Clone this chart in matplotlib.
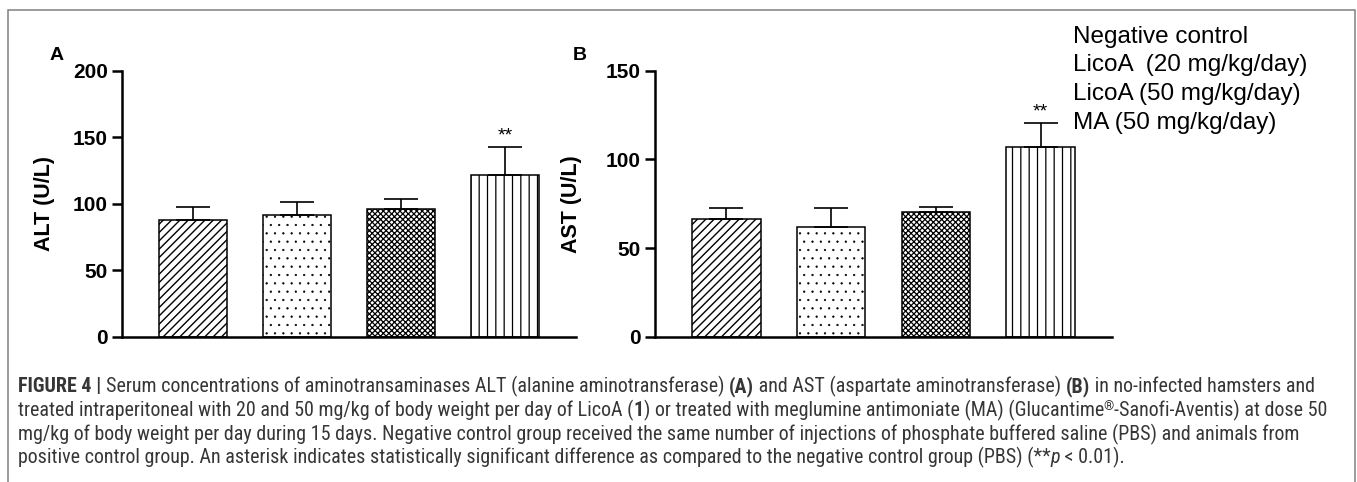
import os
import numpy as np
import matplotlib
matplotlib.use("Agg")
import matplotlib.pyplot as plt
from matplotlib import font_manager as fm
from matplotlib.patches import Rectangle

# ---- data ----
groups = ["Negative control", "LicoA  (20 mg/kg/day)", "LicoA (50 mg/kg/day)", "MA (50 mg/kg/day)"]
alt_mean = [88.0, 91.5, 96.2, 121.8]
alt_err = [9.7, 10.0, 7.6, 21.2]
ast_mean = [66.5, 62.2, 70.6, 106.9]
ast_err = [6.2, 10.5, 2.9, 13.9]
alt_ticks = [0, 50, 100, 150, 200]
ast_ticks = [0, 50, 100, 150]
signif = ["", "", "", "**"]
hatches = ["////", "..", "xxxxxx", "||"]
hatch_lw = [1.0, 0.4, 0.9, 0.9]

caption_lines = [
    [("FIGURE 4 | ", "bold"),
     ("Serum concentrations of aminotransaminases ALT (alanine aminotransferase) ", "normal"),
     ("(A)", "bold"),
     (" and AST (aspartate aminotransferase) ", "normal"),
     ("(B)", "bold"),
     (" in no-infected hamsters and", "normal")],
    [("treated intraperitoneal with 20 and 50 mg/kg of body weight per day of LicoA (", "normal"),
     ("1", "bold"),
     (") or treated with meglumine antimoniate (MA) (Glucantime", "normal"),
     ("®", "sup"),
     ("-Sanofi-Aventis) at dose 50", "normal")],
    [("mg/kg of body weight per day during 15 days. Negative control group received the same "
      "number of injections of phosphate buffered saline (PBS) and animals from", "normal")],
    [("positive control group. An asterisk indicates statistically significant difference as "
      "compared to the negative control group (PBS) (**", "normal"),
     ("p", "italic"),
     (" < 0.01).", "normal")],
]

W, H = 1357, 482
plt.rcParams["font.family"] = ["Liberation Sans", "DejaVu Sans"]
plt.rcParams["hatch.linewidth"] = 1.0
CAPTION_FONT = ["Liberation Sans Narrow", "Roboto Condensed", "Liberation Sans", "DejaVu Sans"]


def bold_font_file():
    # the plain (not narrow) Arial-like bold face
    for f in fm.fontManager.ttflist:
        if os.path.basename(f.fname) == "LiberationSans-Bold.ttf":
            return f.fname
    return fm.findfont(fm.FontProperties(family="Roboto", weight="bold"))


BOLD_FILE = bold_font_file()


def bold(size):
    return fm.FontProperties(fname=BOLD_FILE, size=size)


fig = plt.figure(figsize=(W / 100, H / 100), dpi=100)


def fx(px):
    return px / W


def fy(py):
    return 1 - py / H


def draw_panel(rect, means, errs, ticks, ylabel, letter, letter_xy, label_x):
    ax = fig.add_axes(rect)
    x = np.arange(len(means))
    for i in range(len(means)):
        bars = ax.bar(x[i], means[i], width=0.655, facecolor="white", edgecolor="black",
                      linewidth=1.1, hatch=hatches[i], zorder=2)
        for b in bars:
            try:
                b.set_hatch_linewidth(hatch_lw[i])
            except AttributeError:
                pass
    ax.errorbar(x, means, yerr=[np.zeros(len(errs)), errs], fmt="none", ecolor="black",
                elinewidth=1.2, capsize=12, capthick=1.2, zorder=3)
    for i, s in enumerate(signif):
        if s:
            ax.annotate(s, (x[i], means[i] + errs[i]), xytext=(0, 1.5), textcoords="offset points",
                        ha="center", va="bottom", fontsize=14)
    ax.set_xlim(-0.68, 3.68)
    ax.set_ylim(0, ticks[-1])
    ax.set_yticks(ticks)
    ax.set_xticks([])
    for side in ("top", "right"):
        ax.spines[side].set_visible(False)
    for side in ("left", "bottom"):
        ax.spines[side].set_linewidth(1.8)
    ax.tick_params(axis="y", length=7, width=1.8, pad=3)
    ax.set_yticklabels([str(t) for t in ticks], fontproperties=bold(15))
    ax.set_ylabel(ylabel, fontproperties=bold(15.5))
    ax.yaxis.set_label_coords(label_x, 0.5)
    fig.text(fx(letter_xy[0]), fy(letter_xy[1]), letter, fontproperties=bold(14),
             ha="center", va="center")
    return ax


axis_bottom = 1 - 337 / H
axis_height = (337 - 70.7) / H
draw_panel([fx(122), axis_bottom, fx(454), axis_height], alt_mean, alt_err, alt_ticks,
           "ALT (U/L)", "A", (57, 55), -0.1476)
draw_panel([fx(655), axis_bottom, fx(457), axis_height], ast_mean, ast_err, ast_ticks,
           "AST (U/L)", "B", (579.5, 55), -0.16)

# legend text only (no swatches in the reference)
for i, g in enumerate(groups):
    fig.text(fx(1073), fy(37 + 28.5 * i), g, fontsize=17.5, ha="left", va="center")

# outer frame
fig.patches.append(Rectangle((fx(7.5), fy(495)), fx(1355 - 7.5), (495 - 10.5) / H,
                             transform=fig.transFigure, fill=False, edgecolor="#808080",
                             linewidth=1.1))

# caption, drawn run by run so the mixed styles line up
renderer = fig.canvas.get_renderer()
cap_color = "#363636"


def run_props(style, size):
    kw = dict(fontsize=size, family=CAPTION_FONT, color=cap_color)
    if style == "bold":
        kw["fontweight"] = "bold"
    elif style == "italic":
        kw["fontstyle"] = "italic"
    elif style == "sup":
        kw["fontsize"] = size * 0.65
    return kw


def text_width(s, kw):
    t = fig.text(0, 0, s + ".", **kw)
    w1 = t.get_window_extent(renderer).width
    t.set_text(".")
    w2 = t.get_window_extent(renderer).width
    t.remove()
    return w1 - w2


def line_width(runs, size):
    return sum(text_width(s, run_props(st, size)) for s, st in runs)


base = 10.0
cap_size = base * (1318 - 18) / line_width(caption_lines[1], base)

baselines = [392, 416, 440, 463]
for runs, yb in zip(caption_lines, baselines):
    x = 18.0
    for s, st in runs:
        kw = run_props(st, cap_size)
        yy = yb - 6 if st == "sup" else yb
        fig.text(fx(x), fy(yy), s, ha="left", va="baseline", **kw)
        x += text_width(s, kw)

fig.savefig("out.png", dpi=100)
